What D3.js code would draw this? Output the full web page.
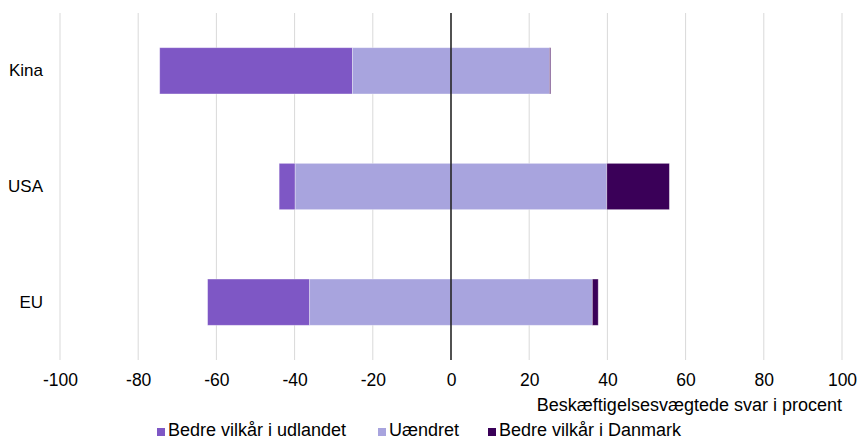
<!DOCTYPE html>
<html>
<head>
<meta charset="utf-8">
<script src="https://cdn.jsdelivr.net/npm/d3@7"></script>
<style>
  body { margin: 0; background: #fff; }
  svg text { font-family: "Liberation Sans", Arial, sans-serif; fill: #000; }
</style>
</head>
<body>
<div id="chart"></div>
<script>
// data
var categories = ["Kina", "USA", "EU"];
var udlandet = [49.3, 4.1, 26.1];   // Bedre vilkår i udlandet
var uaendret = [50.4, 79.7, 72.3];  // Uændret (split around 0)
var danmark = [0.3, 16.0, 1.5];     // Bedre vilkår i Danmark
var xTicks = [-100, -80, -60, -40, -20, 0, 20, 40, 60, 80, 100];

var series = [
  {name: "Bedre vilkår i udlandet", fill: "#7E57C5"},
  {name: "Uændret", fill: "#A8A4DE"},
  {name: "Bedre vilkår i Danmark", fill: "#3A0058"}
];

var width = 859, height = 439;
var margin = {top: 13, right: 17, bottom: 79, left: 60};

var svg = d3.select("#chart").append("svg")
  .attr("width", width)
  .attr("height", height);

var x = d3.scaleLinear().domain([-100, 100]).range([margin.left, width - margin.right]);
var y = d3.scaleBand().domain(categories)
  .range([margin.top, height - margin.bottom])
  .paddingInner(0.6).paddingOuter(0.3);

// gridlines
svg.append("g").selectAll("line")
  .data(xTicks.filter(function(t) { return t !== 0; }))
  .enter().append("line")
  .attr("x1", function(d) { return x(d); })
  .attr("x2", function(d) { return x(d); })
  .attr("y1", margin.top)
  .attr("y2", height - margin.bottom)
  .style("stroke", "#D9D9D9")
  .style("stroke-width", 1);

// build segments: [start, end] for each category and series
var rows = categories.map(function(c, i) {
  var s0 = -uaendret[i] / 2 - udlandet[i];
  var s1 = -uaendret[i] / 2;
  var s2 = uaendret[i] / 2;
  var s3 = s2 + danmark[i];
  return [
    {cat: c, x0: s0, x1: s1, fill: series[0].fill},
    {cat: c, x0: s1, x1: s2, fill: series[1].fill},
    {cat: c, x0: s2, x1: s3, fill: series[2].fill}
  ];
});

svg.append("g").selectAll("g")
  .data(rows)
  .enter().append("g")
  .selectAll("rect")
  .data(function(d) { return d; })
  .enter().append("rect")
  .attr("x", function(d) { return x(d.x0); })
  .attr("width", function(d) { return x(d.x1) - x(d.x0); })
  .attr("y", function(d) { return y(d.cat); })
  .attr("height", y.bandwidth())
  .style("fill", function(d) { return d.fill; })
  .style("stroke", "#fff")
  .style("stroke-opacity", 0.4)
  .style("stroke-width", 0.8);

// zero line
svg.append("line")
  .attr("x1", x(0)).attr("x2", x(0))
  .attr("y1", margin.top).attr("y2", height - margin.bottom)
  .style("stroke", "#262626")
  .style("stroke-width", 1.6);

// x axis labels (plain hyphen for minus)
var xAxis = d3.axisBottom(x).tickValues(xTicks).tickSize(0).tickPadding(14)
  .tickFormat(function(d) { return String(d); });
var gx = svg.append("g")
  .attr("transform", "translate(0," + (height - margin.bottom) + ")")
  .call(xAxis);
gx.select(".domain").remove();
gx.selectAll("text")
  .style("font-size", "17.5px")
  .style("font-family", "Liberation Sans, Arial, sans-serif")
  .attr("fill", "#000");

// y axis labels
var yAxis = d3.axisLeft(y).tickSize(0).tickPadding(17);
var gy = svg.append("g")
  .attr("transform", "translate(" + margin.left + ",0)")
  .call(yAxis);
gy.select(".domain").remove();
gy.selectAll("text")
  .style("font-size", "17px")
  .style("font-family", "Liberation Sans, Arial, sans-serif")
  .attr("fill", "#000");

// axis title
svg.append("text")
  .attr("x", width - margin.right)
  .attr("y", 410.5)
  .attr("text-anchor", "end")
  .style("font-size", "18px")
  .text("Beskæftigelsesvægtede svar i procent");

// legend
var legendX = [157, 378, 488];
var lg = svg.append("g").selectAll("g")
  .data(series)
  .enter().append("g")
  .attr("transform", function(d, i) { return "translate(" + legendX[i] + ",436)"; });
lg.append("rect")
  .attr("x", 0).attr("y", -8)
  .attr("width", 8).attr("height", 8)
  .style("fill", function(d) { return d.fill; });
lg.append("text")
  .attr("x", 11).attr("y", 0)
  .style("font-size", "18px")
  .text(function(d) { return d.name; });
</script>
</body>
</html>
